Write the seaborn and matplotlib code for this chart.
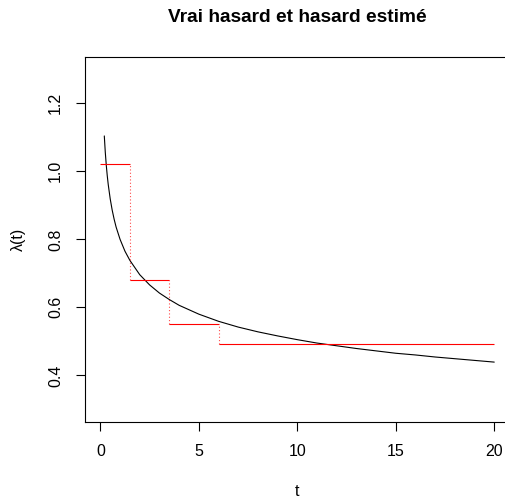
import numpy as np
import pandas as pd
import matplotlib
matplotlib.use("Agg")
import matplotlib.pyplot as plt
import seaborn as sns

# True hazard curve
t_true = [0.2, 0.25, 0.3, 0.35, 0.4, 0.5, 0.6, 0.7, 0.8, 1.0, 1.25, 1.5, 2.0, 2.5, 3.0, 3.5,
          4.0, 5.0, 6.0, 7.0, 8.0, 9.0, 10.0, 11.0, 12.0, 13.0, 14.0, 15.0,
          16.0, 17.0, 18.0, 19.0, 20.0]
lam_true = [1.104, 1.056, 1.018, 0.987, 0.961, 0.919, 0.886, 0.859, 0.836, 0.800, 0.765, 0.738,
            0.696, 0.666, 0.642, 0.623, 0.606, 0.580, 0.559, 0.542, 0.528, 0.516,
            0.505, 0.495, 0.487, 0.479, 0.472, 0.465, 0.460, 0.454, 0.449, 0.444, 0.439]

# Estimated piecewise-constant hazard
cuts = [0.0, 1.5, 3.5, 6.0, 20.0]
lam_est = [1.022, 0.679, 0.552, 0.493]

x_ticks = [0, 5, 10, 15, 20]
y_ticks = [0.4, 0.6, 0.8, 1.0, 1.2]

title = "Vrai hasard et hasard estimé"
xlabel = "t"
ylabel = "λ(t)"

sns.set_style("white")
plt.rcParams['font.family'] = ['Liberation Sans', 'DejaVu Sans']
plt.rcParams['text.color'] = 'black'
plt.rcParams['axes.labelcolor'] = 'black'
plt.rcParams['xtick.color'] = 'black'
plt.rcParams['ytick.color'] = 'black'

W, H = 506, 498
fig = plt.figure(figsize=(W / 100, H / 100), dpi=100)
left, right, top, bottom = 85, 510, 56.7, 422.3
ax = fig.add_axes([left / W, 1 - bottom / H, (right - left) / W, (bottom - top) / H])

df = pd.DataFrame({"t": t_true, "lam": lam_true})
sns.lineplot(data=df, x="t", y="lam", color="black", linewidth=0.8, ax=ax, sort=False)

ax.hlines(lam_est, cuts[:-1], cuts[1:], colors="#ff0000", linewidth=0.8)
ax.vlines(cuts[1:-1], lam_est[1:], lam_est[:-1], colors="#ff0000", linewidth=0.8,
          linestyles=(0, (1, 2)), alpha=0.7)

ax.set_xlim(-0.78, 20.8)
ax.set_ylim(0.262, 1.337)
ax.set_xticks(x_ticks)
ax.set_xticklabels([str(v) for v in x_ticks])
ax.set_yticks(y_ticks)
ax.set_yticklabels([f"{v:.1f}" for v in y_ticks], rotation=90, va="center")

for s in ["left", "bottom", "top", "right"]:
    ax.spines[s].set_color("black")
    ax.spines[s].set_linewidth(0.8)

ax.tick_params(axis="both", which="major", direction="out", length=6.8, width=0.8,
               color="black", labelsize=11.5, labelcolor="black", bottom=True, left=True)
ax.tick_params(axis="x", pad=9)
ax.tick_params(axis="y", pad=9)

ax.set_xlabel(xlabel, fontsize=11.5, color="black")
ax.set_ylabel(ylabel, fontsize=11.5, color="black")
ax.xaxis.set_label_coords(0.5, (bottom - 491.7) / (bottom - top))
ax.xaxis.label.set_va("center")
ax.yaxis.set_label_coords((18.5 - left) / (right - left), 0.5)
ax.yaxis.label.set_va("center")

ax.set_title(title, fontsize=13.8, fontweight="bold", color="black",
             y=(bottom - 17.5) / (bottom - top), va="center", pad=0)

fig.savefig("out.png", dpi=100)
